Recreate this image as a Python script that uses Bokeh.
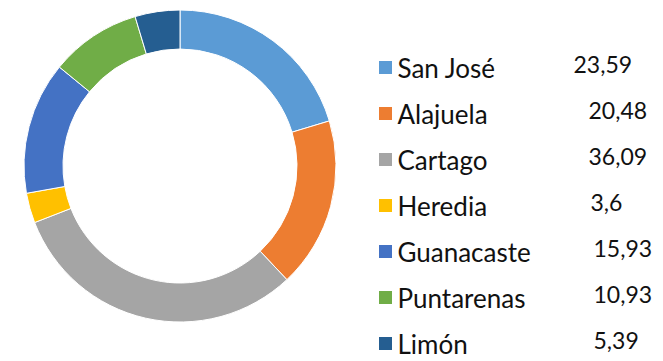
import math
from bokeh.plotting import figure
from bokeh.models import ColumnDataSource
from bokeh.core.properties import value
from bokeh.embed import file_html
from bokeh.resources import INLINE

# Provinces and their shares
provinces = ["San José", "Alajuela", "Cartago", "Heredia", "Guanacaste", "Puntarenas", "Limón"]
shares = [23.59, 20.48, 36.09, 3.6, 15.93, 10.93, 5.39]
share_labels = ["23,59", "20,48", "36,09", "3,6", "15,93", "10,93", "5,39"]
colors = ["#5B9BD5", "#ED7D31", "#A5A5A5", "#FFC000", "#4472C4", "#70AD47", "#255E91"]

W, H = 663, 361
p = figure(width=W, height=H, x_range=(0, W), y_range=(0, H),
           output_backend="svg", toolbar_location=None, min_border=0)
p.axis.visible = False
p.grid.visible = False
p.outline_line_color = None

# Donut slices, clockwise from twelve o'clock
total = sum(shares)
starts, ends = [], []
acc = 0.0
for v in shares:
    starts.append(math.pi / 2 - acc / total * 2 * math.pi)
    acc += v
    ends.append(math.pi / 2 - acc / total * 2 * math.pi)

cx, cy = 179.5, H - 165.5
src = ColumnDataSource(dict(start=starts, end=ends, color=colors))
p.annular_wedge(x=cx, y=cy, inner_radius=117, outer_radius=156,
                start_angle="start", end_angle="end", direction="clock",
                fill_color="color", line_color="white", line_width=1, source=src)

# Legend rows with value labels
row_y = [H - 67 - i * 46 for i in range(len(provinces))]
value_x = [573, 588, 588, 590, 593, 593, 593]
font = value("Lato")
leg = ColumnDataSource(dict(
    y=row_y, name=provinces, color=colors, val=share_labels, vx=value_x,
    vy=[y + 3 for y in row_y],
))
p.rect(x=385, y="y", width=13, height=13, fill_color="color", line_color=None, source=leg)
p.text(x=397, y="y", text="name", text_font=font, text_font_size="26px",
       text_color="#111111", text_baseline="middle", text_align="left", source=leg)
p.text(x="vx", y="vy", text="val", text_font=font, text_font_size="23px",
       text_color="#111111", text_baseline="middle", text_align="left", source=leg)

open("out.html", "w").write(file_html(p, INLINE))
